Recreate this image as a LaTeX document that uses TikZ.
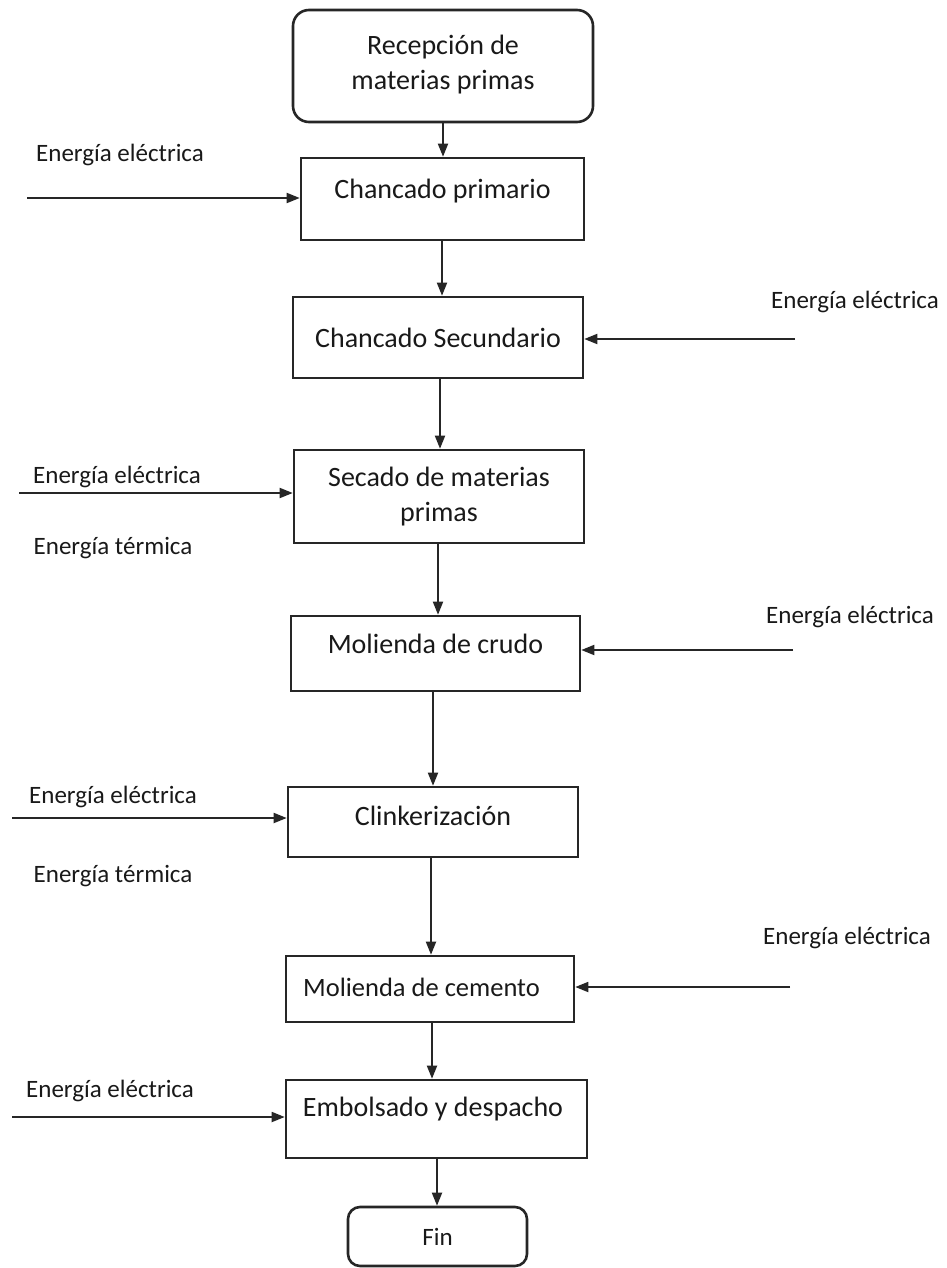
\documentclass[tikz,border=0pt]{standalone}
\usepackage{fontspec}
\setmainfont{Carlito}
\usetikzlibrary{arrows.meta}
\begin{document}
\begin{tikzpicture}[x=1pt,y=-1pt]
\tikzset{
 boxst/.style={draw=black!85, line width=2.6pt, inner sep=0pt},
 rbox/.style={boxst, rounded corners=16pt},
 btext/.style={font=\fontsize{28}{35}\selectfont, inner sep=0pt, align=center, text=black!90},
 ltext/.style={font=\fontsize{25}{30}\selectfont, inner sep=0pt, text=black!90},
 arr/.style={draw=black!85, line width=1.8pt, -{Triangle[length=13pt,width=10pt]}},
}
\useasboundingbox[fill=white] (0,0) rectangle (946,1268);

% boxes
\node[rbox, minimum width=300pt, minimum height=112pt] (r1) at (443,66) {};
\node[btext] (t1) at (443,65) {Recepción de\\materias primas};

\node[boxst, minimum width=283pt, minimum height=82pt] (b2) at (442.5,199) {};
\node[btext] (t2) at (442.5,191) {Chancado primario};

\node[boxst, minimum width=290pt, minimum height=81pt] (b3) at (438,337.5) {};
\node[btext] (t3) at (438,338) {Chancado Secundario};

\node[boxst, minimum width=290pt, minimum height=93pt] (b4) at (439,496.5) {};
\node[btext] (t4) at (439,497) {Secado de materias\\primas};

\node[boxst, minimum width=289pt, minimum height=75pt] (b5) at (435.5,653.5) {};
\node[btext] (t5) at (435.5,644) {Molienda de crudo};

\node[boxst, minimum width=290pt, minimum height=70pt] (b6) at (433,822) {};
\node[btext] (t6) at (433,816) {Clinkerización};

\node[boxst, minimum width=288pt, minimum height=66pt] (b7) at (430,989) {};
\node[btext, font=\fontsize{26.5}{32}\selectfont, anchor=west] (t7) at (303,987) {Molienda de cemento};

\node[boxst, minimum width=301pt, minimum height=78pt] (b8) at (436.5,1119) {};
\node[btext] (t8) at (433,1109) {Embolsado y despacho};

\node[rbox, rounded corners=12pt, minimum width=179pt, minimum height=59pt] (r9) at (437.5,1236.5) {};
\node[btext, font=\fontsize{25}{30}\selectfont] (t9) at (437.5,1237) {Fin};

% vertical flow
\coordinate (x1) at (443,0);
\coordinate (x2) at (442,0);
\coordinate (x3) at (440,0);
\coordinate (x4) at (438,0);
\coordinate (x5) at (433,0);
\coordinate (x6) at (431,0);
\coordinate (x7) at (432,0);
\coordinate (x8) at (437,0);
\draw[arr] (r1.south -| x1) -- (b2.north -| x1);
\draw[arr] (b2.south -| x2) -- (b3.north -| x2);
\draw[arr] (b3.south -| x3) -- (b4.north -| x3);
\draw[arr] (b4.south -| x4) -- (b5.north -| x4);
\draw[arr] (b5.south -| x5) -- (b6.north -| x5);
\draw[arr] (b6.south -| x6) -- (b7.north -| x6);
\draw[arr] (b7.south -| x7) -- (b8.north -| x7);
\draw[arr] (b8.south -| x8) -- (r9.north -| x8);

% energy inputs
\coordinate (c1) at (27,198);
\draw[arr] (c1) -- (c1 -| b2.west);
\node[ltext] (l1) at (120,155) {Energía eléctrica};

\coordinate (c2) at (795,339);
\draw[arr] (c2) -- (c2 -| b3.east);
\node[ltext] (l2) at (855,302) {Energía eléctrica};

\coordinate (c3) at (19,493);
\draw[arr] (c3) -- (c3 -| b4.west);
\node[ltext] (l3) at (117,477) {Energía eléctrica};
\node[ltext] (l3b) at (113,548) {Energía térmica};

\coordinate (c4) at (793,650);
\draw[arr] (c4) -- (c4 -| b5.east);
\node[ltext] (l4) at (850,617) {Energía eléctrica};

\coordinate (c5) at (12,818);
\draw[arr] (c5) -- (c5 -| b6.west);
\node[ltext] (l5) at (113,797) {Energía eléctrica};
\node[ltext] (l5b) at (113,876) {Energía térmica};

\coordinate (c6) at (790,987);
\draw[arr] (c6) -- (c6 -| b7.east);
\node[ltext] (l6) at (847,938) {Energía eléctrica};

\coordinate (c7) at (12,1117);
\draw[arr] (c7) -- (c7 -| b8.west);
\node[ltext] (l7) at (110,1091) {Energía eléctrica};
\end{tikzpicture}
\end{document}
